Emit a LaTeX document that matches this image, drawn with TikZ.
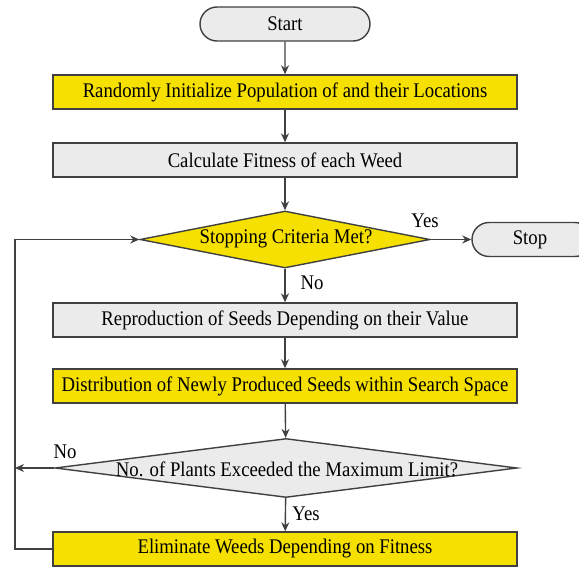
\documentclass[tikz,border=0pt]{standalone}
\usepackage{fontspec}
\setmainfont{Liberation Serif}
\newfontfamily\condserif[FakeStretch=0.9]{Liberation Serif}
\usetikzlibrary{shapes.geometric,shapes.misc,arrows.meta}
\definecolor{ylw}{RGB}{245,224,0}
\definecolor{gry}{RGB}{235,235,235}
\definecolor{edge}{RGB}{64,64,64}
\begin{document}
\begin{tikzpicture}[x=1pt,y=-1pt,
  base/.style={draw=edge,line width=1.4pt,inner sep=0pt,font=\condserif\fontsize{20.8}{24}\selectfont},
  ybox/.style={base,rectangle,fill=ylw,minimum width=464pt,minimum height=34pt},
  gbox/.style={base,rectangle,fill=gry,minimum width=464pt,minimum height=34pt},
  term/.style={base,rounded rectangle,fill=gry,minimum height=34pt},
  diam/.style={base,diamond},
  lbl/.style={font=\condserif\fontsize{20.8}{24}\selectfont,inner sep=0pt},
  conn/.style={draw=edge,line width=1.4pt,-{Stealth[length=9pt,width=8pt]}}]
\useasboundingbox (0,0) rectangle (579,567);
\node[term,minimum width=170pt] (start) at (285,24) {Start};
\node[ybox] (init) at (285,92) {Randomly Initialize Population of and their Locations};
\node[gbox] (fit) at (285,160) {Calculate Fitness of each Weed};
\node[diam,fill=ylw,minimum width=290pt,minimum height=57pt] (d1) at (285,239.5) {};
\node[lbl] at (286,239) {Stopping Criteria Met?};
\node[term,minimum width=120pt] (stop) at (532,239.5) {\hspace*{-4pt}Stop};
\node[gbox] (repro) at (285,320) {Reproduction of Seeds Depending on their Value};
\node[ybox] (dist) at (285,386) {Distribution of Newly Produced Seeds within Search Space};
\node[diam,fill=gry,minimum width=462pt,minimum height=59pt] (d2) at (286,468) {};
\node[lbl] at (287,469) {No. of Plants Exceeded the Maximum Limit?};
\node[ybox] (elim) at (285,549) {Eliminate Weeds Depending on Fitness};
\coordinate (lx) at (15,0);
\draw[conn] (start) -- (init);
\draw[conn] (init) -- (fit);
\draw[conn] (fit) -- (d1);
\draw[conn] (d1.east) -- (stop.west);
\draw[conn] (d1) -- (repro);
\draw[conn] (repro) -- (dist);
\draw[conn] (dist) -- (d2);
\draw[conn] (d2) -- (elim);
\draw[conn] (d2.west) -- (d2.west -| lx);
\draw[conn] (elim.west) -- (elim.west -| lx) -- (d1.west -| lx) -- (d1.west);
\node[lbl] at (425,221) {Yes};
\node[lbl] at (312,283) {No};
\node[lbl] at (65,452) {No};
\node[lbl] at (306,514) {Yes};
\end{tikzpicture}
\end{document}
